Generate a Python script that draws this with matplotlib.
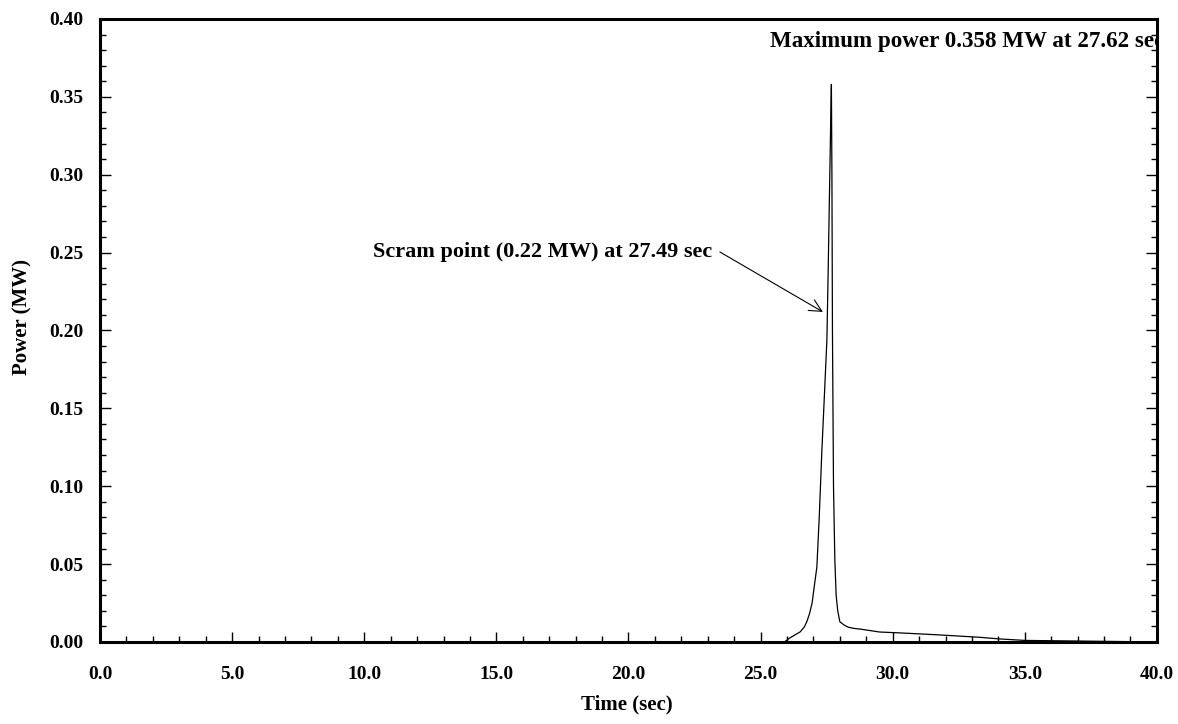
import numpy as np
import matplotlib
matplotlib.use("Agg")
import matplotlib.pyplot as plt
from matplotlib.ticker import MultipleLocator, FormatStrFormatter

plt.rcParams['font.family'] = ['Liberation Serif', 'DejaVu Serif']
plt.rcParams['font.weight'] = 'bold'

# power transient
time_sec = [0.0, 25.9, 26.1, 26.3, 26.5, 26.65, 26.75, 26.85, 26.95, 27.05,
            27.13, 27.22, 27.32, 27.42, 27.51, 27.56, 27.62, 27.66, 27.68,
            27.70, 27.72, 27.76, 27.81, 27.86, 27.92, 28.0, 28.15, 28.3,
            28.5, 28.8, 29.5, 30.3, 31.0, 31.8, 32.5, 33.3, 34.0, 35.0, 40.0]
power_mw = [0.0, 0.0, 0.0025, 0.0045, 0.0065, 0.0095, 0.013, 0.018, 0.025, 0.038,
            0.048, 0.08, 0.123, 0.16, 0.194, 0.24, 0.30, 0.34, 0.358,
            0.30, 0.20, 0.10, 0.053, 0.030, 0.020, 0.013, 0.011, 0.0096,
            0.0088, 0.0082, 0.0064, 0.0058, 0.0052, 0.0045, 0.0038, 0.0030, 0.0020, 0.001, 0.0]

scram_t, scram_p = 27.49, 0.22
max_t, max_p = 27.62, 0.358

fig = plt.figure(figsize=(11.78, 7.24), dpi=100)
ax = fig.add_axes([0.0849, 0.1133, 0.8972, 0.8605])

ax.plot(time_sec, power_mw, color='black', lw=0.9)

ax.set_xlim(0, 40)
ax.set_ylim(0, 0.40)
ax.xaxis.set_major_locator(MultipleLocator(5))
ax.xaxis.set_minor_locator(MultipleLocator(1))
ax.yaxis.set_major_locator(MultipleLocator(0.05))
ax.yaxis.set_minor_locator(MultipleLocator(0.01))
ax.xaxis.set_major_formatter(FormatStrFormatter('%.1f'))
ax.yaxis.set_major_formatter(FormatStrFormatter('%.2f'))
ax.tick_params(which='both', direction='in', right=True, top=False, labelsize=14)
ax.tick_params(axis='x', which='major', length=7, width=1, pad=17)
ax.tick_params(axis='y', which='major', length=8, width=1, pad=12)
ax.tick_params(which='minor', length=4, width=1)
for s in ax.spines.values():
    s.set_linewidth(2.2)

ax.set_xlabel('Time (sec)', fontsize=15, fontweight='bold')
ax.set_ylabel('Power (MW)', fontsize=15, fontweight='bold')
ax.xaxis.set_label_coords(0.4986, -0.085)
ax.yaxis.set_label_coords(-0.0643, 0.522)

ax.text(10.33, 0.2472, 'Scram point (%.2f MW) at %.2f sec' % (scram_p, scram_t),
        fontsize=16, fontweight='bold', va='baseline')
ax.annotate('', xy=(27.36, 0.2119), xytext=(23.46, 0.2504),
            arrowprops=dict(arrowstyle='->', color='black', lw=0.8,
                            mutation_scale=22, shrinkA=0, shrinkB=0))
ax.text(25.35, 0.382, 'Maximum power %.3f MW at %.2f sec' % (max_p, max_t),
        fontsize=16.6, fontweight='bold', va='baseline', clip_on=True)

fig.savefig('out.png', dpi=100)
